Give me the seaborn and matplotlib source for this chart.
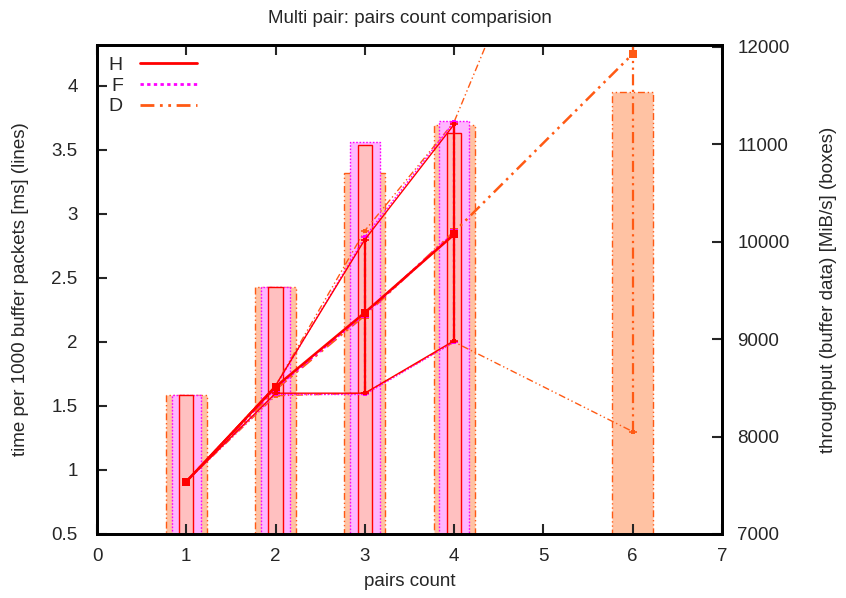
import matplotlib
matplotlib.use("Agg")
import matplotlib.pyplot as plt
import seaborn as sns
import numpy as np
import pandas as pd
from matplotlib.lines import Line2D

# ---------------- data ----------------
series = ["H", "F", "D"]

h_x = [1, 2, 3, 4]
h_mean = [0.91, 1.65, 2.23, 2.84]
h_min = [0.91, 1.60, 1.60, 2.01]
h_max = [0.91, 1.66, 2.80, 3.70]
h_tput = [8430, 9530, 10990, 11116]

f_x = [1, 2, 3, 4]
f_mean = [0.91, 1.64, 2.22, 2.85]
f_min = [0.91, 1.59, 1.59, 2.00]
f_max = [0.91, 1.65, 2.82, 3.72]
f_tput = [8425, 9530, 11024, 11239]

d_x = [1, 2, 3, 4, 6]
d_mean = [0.91, 1.63, 2.21, 2.86, 4.25]
d_min = [0.91, 1.58, 1.60, 2.00, 1.30]
d_max = [0.91, 1.66, 2.87, 3.72, 7.08]
d_tput = [8430, 9530, 10706, 11195, 11537]

title = "Multi pair: pairs count comparision"
xlabel = "pairs count"
ylabel = "time per 1000 buffer packets [ms] (lines)"
y2label = "throughput (buffer data) [MiB/s] (boxes)"
x_ticks = [0, 1, 2, 3, 4, 5, 6, 7]
y_ticks = [0.5, 1, 1.5, 2, 2.5, 3, 3.5, 4]
y2_ticks = [7000, 8000, 9000, 10000, 11000, 12000]

# ---------------- style ----------------
sns.set_style("ticks")
plt.rcParams["font.family"] = ["Liberation Sans", "DejaVu Sans"]
FS = 13.5
plt.rcParams["font.size"] = FS

colors = {"H": "#ff0000", "F": "#ff00ff", "D": "#ff5a14"}
fills = {"H": "#ffc0c0", "F": "#ffb6ff", "D": "#ffc2a3"}
styles = {"H": "-", "F": (0, (1.2, 1.2)), "D": (0, (5, 2, 1, 2, 1, 2))}
widths = {"H": 0.16, "F": 0.33, "D": 0.46}

data = {
    "H": (h_x, h_mean, h_min, h_max, h_tput),
    "F": (f_x, f_mean, f_min, f_max, f_tput),
    "D": (d_x, d_mean, d_min, d_max, d_tput),
}

fig = plt.figure(figsize=(8.46, 5.98), dpi=100)
ax = fig.add_axes([97 / 846, 1 - 534 / 598, (722 - 97) / 846, (534 - 45) / 598])
ax2 = ax.twinx()

# boxes (right axis): D at back, then F, then H
for name in ["D", "F", "H"]:
    xs, mean, mn, mx, tp = data[name]
    df = pd.DataFrame({"x": xs, "tput": tp})
    sns.barplot(data=df, x="x", y="tput", native_scale=True, width=widths[name],
                color=fills[name], saturation=1, errorbar=None, ax=ax2,
                edgecolor=colors[name], linewidth=1.0, linestyle=styles[name])

# lines (left axis)
for name in ["D", "F", "H"]:
    xs, mean, mn, mx, tp = data[name]
    c = colors[name]
    ls = styles[name]
    df = pd.DataFrame({"x": xs, "mean": mean, "min": mn, "max": mx})
    sns.lineplot(data=df, x="x", y="min", ax=ax, color=c, linestyle=ls, linewidth=1.0,
                 marker="s", markersize=3, markeredgewidth=0, estimator=None)
    sns.lineplot(data=df, x="x", y="max", ax=ax, color=c, linestyle=ls, linewidth=1.0,
                 marker="s", markersize=3, markeredgewidth=0, estimator=None)
    sns.lineplot(data=df, x="x", y="mean", ax=ax, color=c, linestyle=ls, linewidth=1.8,
                 marker="s", markersize=6, markeredgewidth=0, estimator=None)
    m = np.array(mean)
    err = [m - np.array(mn), np.array(mx) - m]
    eb = ax.errorbar(xs, mean, yerr=err, fmt="none", ecolor=c, elinewidth=1.6,
                     capsize=3, capthick=1.2)
    for col in eb[2]:
        col.set_linestyle(ls)

ax.set_zorder(ax2.get_zorder() + 1)
ax.patch.set_visible(False)

ax.set_xlim(0, 7)
ax.set_ylim(0.5, 4.32)
ax2.set_ylim(7000, 12016)
ax.set_xticks(x_ticks)
ax.set_xticklabels([str(t) for t in x_ticks])
ax.set_yticks(y_ticks)
ax.set_yticklabels(["0.5", "1", "1.5", "2", "2.5", "3", "3.5", "4"])
ax2.set_yticks(y2_ticks)
ax2.set_yticklabels([str(t) for t in y2_ticks])

ax.tick_params(direction="in", length=7, width=1.5, top=True, right=False, labelsize=FS)
ax.tick_params(axis="x", pad=10)
ax.tick_params(axis="y", pad=14)
ax2.tick_params(direction="in", right=True, length=7, width=1.5, labelsize=FS, pad=11)
for a in (ax, ax2):
    for s in a.spines.values():
        s.set_linewidth(2)
        s.set_color("black")
        s.set_visible(True)

ax.set_xlabel(xlabel, fontsize=FS, labelpad=6)
ax.set_ylabel(ylabel, fontsize=FS, labelpad=16)
ax2.set_ylabel(y2label, fontsize=FS, labelpad=22)
ax2.set_xlabel("")
ax.set_title(title, fontsize=FS, pad=16)

handles = [Line2D([0], [0], color=colors[n], linestyle=styles[n], linewidth=2) for n in series]
leg = ax.legend(handles, series, loc="upper left", frameon=False, markerfirst=False,
                handlelength=2.9, handletextpad=0.9, labelspacing=0.15, fontsize=FS + 0.5,
                borderaxespad=0.2, bbox_to_anchor=(0.0, 1.0))

fig.savefig("out.png", dpi=100)
